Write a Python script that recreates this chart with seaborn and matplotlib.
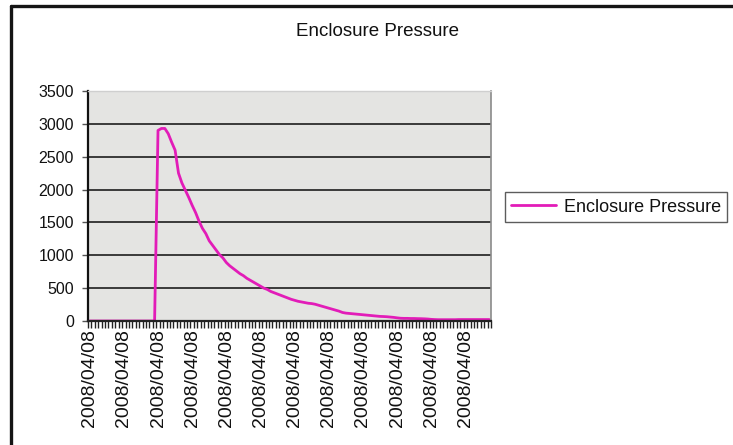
import matplotlib
matplotlib.use("Agg")
import matplotlib.pyplot as plt
from matplotlib.lines import Line2D
import seaborn as sns
import pandas as pd
import numpy as np

title = "Enclosure Pressure"
series_name = "Enclosure Pressure"
date_label = "2008/04/08"

# Estimated readings, one per category (118 samples)
pressure = [
    0, 0, 0, 0, 0, 0, 0, 0, 0, 0,
    0, 0, 0, 0, 0, 0, 0, 0, 0, 0,
    2900, 2930, 2930, 2850, 2720, 2600, 2250, 2100, 1990, 1880,
    1760, 1650, 1520, 1410, 1330, 1220, 1150, 1080, 1010, 960,
    890, 840, 800, 760, 720, 690, 650, 620, 590, 560,
    530, 500, 480, 450, 430, 410, 390, 370, 350, 330,
    315, 300, 290, 280, 270, 265, 255, 240, 225, 210,
    195, 180, 165, 150, 130, 120, 115, 110, 105, 100,
    95, 90, 85, 80, 75, 70, 68, 65, 60, 55,
    48, 42, 40, 40, 38, 38, 36, 35, 33, 30,
    25, 22, 20, 20, 20, 20, 20, 20, 22, 22,
    22, 22, 22, 22, 22, 22, 22, 22,
]
label_every = 10
y_ticks = [0, 500, 1000, 1500, 2000, 2500, 3000, 3500]

df = pd.DataFrame({"idx": list(range(len(pressure))), series_name: pressure})

sns.set_theme(style="white")
plt.rcParams["font.family"] = ["Liberation Sans", "DejaVu Sans"]

fig = plt.figure(figsize=(7.33, 4.45), dpi=100)
fig.patch.set_facecolor("white")
W, H = 733, 445
ax = fig.add_axes([88 / W, 1 - 321 / H, (491 - 88) / W, (321 - 91) / H])
ax.set_facecolor("#e4e4e2")

sns.lineplot(data=df, x="idx", y=series_name, ax=ax, color="#e21cb8",
             linewidth=2.0, label=series_name, legend=False)

n = len(pressure)
ax.set_xlim(-0.5, n - 0.5)
ax.set_ylim(0, 3500)
ax.set_yticks(y_ticks)
ax.set_yticklabels([str(v) for v in y_ticks], fontsize=11.5, color="#111111")
major = list(range(0, n, label_every))
ax.set_xticks(major)
ax.set_xticklabels([date_label] * len(major), rotation=90, fontsize=14,
                   color="#111111")
ax.set_xticks(np.arange(-0.5, n, 1.0), minor=True)
ax.tick_params(axis="x", which="major", length=0, pad=6)
ax.tick_params(axis="x", which="minor", length=5, width=1.0, color="#222222",
               direction="out", bottom=True)
ax.tick_params(axis="y", which="major", length=4, width=1.0, color="#555555",
               direction="out", left=True, pad=6)
ax.set_xlabel("")
ax.set_ylabel("")

ax.yaxis.grid(True, color="#3a3a3a", linewidth=1.4)
ax.set_axisbelow(True)
ax.spines["top"].set_color("#cfcfcf")
ax.spines["top"].set_linewidth(1.0)
ax.spines["right"].set_color("#8a8a8a")
ax.spines["right"].set_linewidth(1.2)
ax.spines["left"].set_color("#111111")
ax.spines["left"].set_linewidth(1.6)
ax.spines["bottom"].set_color("#222222")
ax.spines["bottom"].set_linewidth(1.6)

fig.text(378 / W, 1 - 31 / H, title, ha="center", va="center", fontsize=13.5,
         color="#111111")

handles = [Line2D([0], [0], color="#e21cb8", linewidth=2.0)]
leg = fig.legend(handles, [series_name], loc="center left",
                 bbox_to_anchor=(505 / W, 1 - 207 / H), fontsize=13,
                 frameon=True, fancybox=False, handlelength=2.5,
                 handletextpad=0.4, borderpad=0.35, borderaxespad=0)
leg.get_frame().set_edgecolor("#333333")
leg.get_frame().set_linewidth(1.0)
leg.get_frame().set_facecolor("white")
for t in leg.get_texts():
    t.set_color("#111111")

# Outer chart border (top and left visible in the scan)
fig.add_artist(Line2D([11 / W, 1.0], [1 - 6 / H, 1 - 6 / H],
                      transform=fig.transFigure, color="#151515", linewidth=2.4))
fig.add_artist(Line2D([11 / W, 11 / W], [1 - 6 / H, 0.0],
                      transform=fig.transFigure, color="#151515", linewidth=2.4))

fig.savefig("out.png", dpi=100, facecolor="white")
